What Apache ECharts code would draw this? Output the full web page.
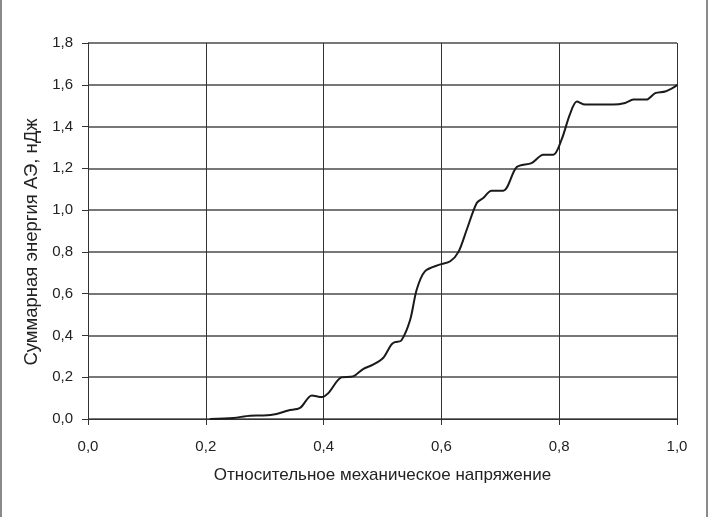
<!DOCTYPE html>
<html><head><meta charset="utf-8">
<script src="https://cdn.jsdelivr.net/npm/echarts@6/dist/echarts.min.js"></script>
<style>
html,body{margin:0;padding:0;background:#fff;}
#frame{position:absolute;left:0;top:0;width:704px;height:517px;border-left:2px solid #8a8a8a;border-right:2px solid #8a8a8a;}
#c{position:absolute;left:0;top:0;width:708px;height:517px;}
</style></head>
<body>
<div id="frame"></div>
<div id="c"></div>
<script>
var xTicks = [0, 0.2, 0.4, 0.6, 0.8, 1.0];
var yTicks = [0, 0.2, 0.4, 0.6, 0.8, 1.0, 1.2, 1.4, 1.6, 1.8];
var stress = [0.207,0.247,0.275,0.298,0.320,0.340,0.360,0.380,0.397,0.408,0.430,0.450,0.467,0.484,0.501,0.515,0.521,0.532,0.547,0.558,0.572,0.597,0.615,0.629,0.643,0.660,0.671,0.685,0.705,0.728,0.753,0.773,0.790,0.804,0.818,0.830,0.844,0.892,0.912,0.926,0.948,0.963,0.980,0.997,1.0];
var energy = [0,0.005,0.016,0.017,0.024,0.041,0.053,0.113,0.105,0.124,0.199,0.204,0.239,0.260,0.292,0.356,0.368,0.376,0.475,0.619,0.707,0.739,0.755,0.800,0.906,1.034,1.058,1.093,1.093,1.206,1.225,1.265,1.265,1.337,1.457,1.520,1.505,1.505,1.513,1.529,1.529,1.560,1.568,1.592,1.600];

var pts = stress.map(function(x,i){return [x, energy[i]];});
var chart = echarts.init(document.getElementById('c'), null, {renderer:'canvas'});
var font = "'Liberation Sans', Arial, sans-serif";
function fmt(v){return v.toFixed(1).replace('.',',');}
chart.setOption({
  animation:false,
  grid:{left:88, right:31, top:43, bottom:98},
  xAxis:{
    type:'value', min:0, max:1, interval:0.2,
    name:'Относительное механическое напряжение', nameLocation:'middle', nameGap:48,
    nameTextStyle:{fontFamily:font, fontSize:17, color:'#222'},
    axisLine:{show:true, lineStyle:{color:'#333', width:1}},
    axisTick:{show:true, length:6, lineStyle:{color:'#333'}},
    axisLabel:{fontFamily:font, fontSize:15, color:'#222', margin:20, formatter:fmt},
    splitLine:{show:true, lineStyle:{color:'#333', width:1}}
  },
  yAxis:{
    type:'value', min:0, max:1.8, interval:0.2,
    name:'Суммарная энергия АЭ, нДж', nameLocation:'middle', nameGap:46,
    nameTextStyle:{fontFamily:font, fontSize:18.5, color:'#222', padding:[0,22,0,0]},
    axisLine:{show:true, onZero:false, lineStyle:{color:'#333', width:1}},
    axisTick:{show:true, length:6, lineStyle:{color:'#333'}},
    axisLabel:{fontFamily:font, fontSize:15, color:'#222', margin:15, formatter:fmt},
    splitLine:{show:true, lineStyle:{color:'#777', width:2}}
  },
  series:[{
    type:'line', data:pts, smooth:0.3, symbol:'none',
    lineStyle:{color:'#1a1a1a', width:2}
  }]
});
</script>
</body></html>
